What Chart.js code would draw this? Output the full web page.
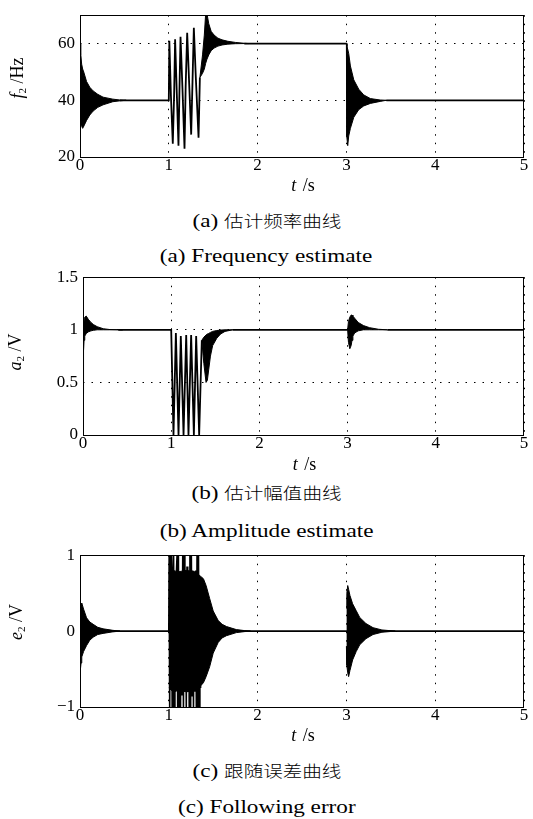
<!DOCTYPE html>
<html>
<head>
<meta charset="utf-8">
<script src="https://cdn.jsdelivr.net/npm/chart.js@4.4.1/dist/chart.umd.min.js"></script>
<style>
  body { margin: 0; background: #fff; width: 533px; height: 819px; position: relative; overflow: hidden; }
  canvas { position: absolute; left: 0; }
  .cap { position: absolute; left: 0; width: 533px; height: 20px; line-height: 20px; text-align: center;
         color: #000; white-space: nowrap; font-family: "Liberation Serif", serif; font-size: 19px; }
  .cap .inner { display: inline-block; transform: scaleX(1.22); }
  .cjk { font-family: "Noto Sans CJK SC", sans-serif; font-size: 16px; font-weight: 300; }
</style>
</head>
<body>
<canvas id="freqChart" width="533" height="200" style="top:0px"></canvas>
<div class="cap" style="top:210px"><span class="inner">(a) <span class="cjk">估计频率曲线</span></span></div>
<div class="cap" style="top:246px"><span class="inner">(a) Frequency estimate</span></div>

<canvas id="ampChart" width="533" height="215" style="top:262px"></canvas>
<div class="cap" style="top:482px"><span class="inner">(b) <span class="cjk">估计幅值曲线</span></span></div>
<div class="cap" style="top:521px"><span class="inner">(b) Amplitude estimate</span></div>

<canvas id="errChart" width="533" height="210" style="top:540px"></canvas>
<div class="cap" style="top:760px"><span class="inner">(c) <span class="cjk">跟随误差曲线</span></span></div>
<div class="cap" style="top:797px"><span class="inner">(c) Following error</span></div>

<script>
// ---- data ----
// time axis, s
const timeTicks = [0, 1, 2, 3, 4, 5];

// (a) estimated frequency f2, Hz
const freqTicks = [20, 40, 60];
// single-line part (null = break where a dense burst is drawn)
const freqTraceT = [0.45, 1.0, 1.006, 1.024, 1.045, 1.06, 1.071, 1.09, 1.109, 1.12, 1.132, 1.154, 1.177, 1.19,
                    1.207, 1.23, 1.252, 1.267, 1.282, 1.305, 1.335, 1.35, 1.6, 1.85, 3.0, 3.2, 3.45, 5];
const freqTraceV = [40, 40, 61, 41.5, 24.7, 42, 61.5, 42.5, 24.0, 43.5, 62.4, 44, 22.9, 45,
                    63.8, 45.5, 27.9, 46.5, 65.6, 47.5, 26.8, 48, null, 60, 60, null, 40, 40];
// dense oscillation envelopes
const freqStartT  = [0, 0.003, 0.011, 0.019, 0.03, 0.037, 0.074, 0.11, 0.148, 0.2, 0.26, 0.37, 0.45, 0.52];
const freqStartHi = [60, 58, 56, 52.7, 51, 50.5, 46.6, 44.6, 43.3, 42.1, 41.1, 40.4, 40.1, 40];
const freqStartLo = [60, 34, 31.5, 30.8, 30.1, 30.5, 32.9, 34.8, 36.2, 37.5, 38.4, 39.5, 39.8, 40];
const freqStepT   = [1.35, 1.38, 1.40, 1.415, 1.43, 1.45, 1.477, 1.51, 1.553, 1.6, 1.665, 1.75, 1.85, 1.9];
const freqStepHi  = [48, 56, 63, 70.5, 70.5, 67, 64.3, 63, 61.9, 61.3, 60.8, 60.4, 60.1, 60];
const freqStepLo  = [48, 49.5, 51, 53, 54.5, 56, 57.5, 58.4, 59.1, 59.5, 59.8, 59.95, 60, 60];
const freqDropT   = [3.0, 3.005, 3.015, 3.026, 3.045, 3.083, 3.139, 3.195, 3.27, 3.38, 3.45];
const freqDropHi  = [60, 59, 58, 56.5, 52.1, 47.2, 43.9, 41.9, 40.6, 40.1, 40];
const freqDropLo  = [60, 27, 24.0, 27.4, 30.1, 34, 36.7, 38.0, 38.9, 39.6, 40];

// (b) estimated amplitude a2, V
const ampTicks = [0, 0.5, 1, 1.5];
const ampTraceT = [0.4, 1.0, 1.026, 1.053, 1.083, 1.109, 1.14, 1.17, 1.196, 1.226, 1.257, 1.283, 1.317, 1.347,
                   1.5, 1.7, 3.0, 3.2, 3.45, 5];
const ampTraceV = [1, 1, 0, 0.97, 0, 0.94, 0, 0.95, 0, 0.95, 0, 0.94, 0, 0.9,
                   null, 1, 1, null, 1, 1];
const ampStartT  = [0, 0.004, 0.008, 0.012, 0.02, 0.037, 0.06, 0.09, 0.118, 0.16, 0.23, 0.3, 0.45];
const ampStartHi = [0.39, 0.75, 0.98, 1.08, 1.12, 1.13, 1.1, 1.07, 1.05, 1.03, 1.01, 1.003, 1.0];
const ampStartLo = [0.39, 0.6, 0.8, 0.9, 0.94, 0.965, 0.98, 0.99, 0.995, 1.0, 1.0, 1.0, 1.0];
const ampStepT   = [1.347, 1.37, 1.395, 1.41, 1.425, 1.445, 1.47, 1.517, 1.56, 1.61, 1.7];
const ampStepHi  = [0.9, 0.93, 0.95, 0.96, 0.965, 0.975, 0.985, 0.993, 0.997, 1.0, 1.0];
const ampStepLo  = [0.9, 0.68, 0.5, 0.52, 0.62, 0.75, 0.85, 0.92, 0.96, 0.985, 1.0];
const ampDropT   = [3.0, 3.01, 3.025, 3.04, 3.05, 3.06, 3.08, 3.12, 3.18, 3.25, 3.35, 3.45];
const ampDropHi  = [1, 1.08, 1.12, 1.14, 1.14, 1.13, 1.11, 1.07, 1.04, 1.02, 1.005, 1];
const ampDropLo  = [1, 0.88, 0.82, 0.85, 0.9, 0.94, 0.97, 0.99, 1, 1, 1, 1];

// (c) following error e2, V
const errTicks = [-1, 0, 1];
const errTickLabels = ['\u22121', '0', '1'];
const errTraceT = [0, 1.0, 1.004, 1.010, 1.017, 1.024, 1.031, 1.038, 1.046, 1.054, 1.061, 1.069, 1.077, 1.085,
                   1.093, 1.100, 1.108, 1.116, 1.124, 1.132, 1.140, 1.148, 1.157, 1.165, 1.173, 1.181, 1.189,
                   1.197, 1.205, 1.213, 1.222, 1.230, 1.238, 1.246, 1.254, 1.262, 1.270, 1.278, 1.286, 1.294,
                   1.302, 1.310, 1.318, 1.326, 1.334, 1.342, 1.350, 1.358, 1.366, 1.372, 5];
const errTraceV = [0, 0, 1, -1, 1, -0.6, 1, -1, 0.7, 1, -1, 0.6, -0.8, 0.75,
                   1, -1, 1, -1, 0.65, -1, 0.7, -0.85, 1, -1, 1, -0.75, 0.8,
                   -1, 0.85, -0.8, 0.75, -1, 1, -1, 1, -0.85, 0.8, -1, 0.75, -0.8,
                   0.8, -1, 1, -1, 1, -1, 0.7, -0.75, 0.7, 0, 0];
const errStartT  = [0, 0.005, 0.012, 0.02, 0.04, 0.074, 0.11, 0.148, 0.2, 0.26, 0.37, 0.45];
const errStartHi = [0.3, 0.34, 0.36, 0.37, 0.29, 0.175, 0.12, 0.09, 0.05, 0.03, 0.01, 0];
const errStartLo = [-0.45, -0.5, -0.42, -0.34, -0.27, -0.19, -0.12, -0.08, -0.045, -0.03, -0.01, 0];
const errStepT   = [1.0, 1.05, 1.1, 1.2, 1.3, 1.36, 1.39, 1.42, 1.46, 1.5, 1.556, 1.6, 1.65, 1.76, 1.85, 1.92];
const errStepHi  = [0.75, 0.8, 0.78, 0.8, 0.78, 0.72, 0.69, 0.6, 0.43, 0.265, 0.14, 0.09, 0.06, 0.02, 0.007, 0];
const errStepLo  = [-0.75, -0.8, -0.78, -0.8, -0.78, -0.72, -0.68, -0.6, -0.47, -0.29, -0.15, -0.09, -0.06, -0.02, -0.007, 0];
const errDropT   = [3.0, 3.005, 3.015, 3.025, 3.04, 3.07, 3.11, 3.15, 3.22, 3.3, 3.4, 3.55];
const errDropHi  = [0.3, 0.5, 0.6, 0.55, 0.47, 0.36, 0.27, 0.18, 0.1, 0.045, 0.015, 0];
const errDropLo  = [-0.2, -0.45, -0.55, -0.6, -0.52, -0.38, -0.27, -0.18, -0.1, -0.045, -0.015, 0];

// ---- helpers ----
const SERIF = '"Liberation Serif", "Times New Roman", serif';

function pts(ts, vs) {
  return ts.map((t, i) => ({ x: t, y: vs[i] }));
}
function trace(ts, vs, w) {
  return { data: pts(ts, vs), borderColor: '#000', borderWidth: w || 1.5, pointRadius: 0, fill: false, spanGaps: false };
}
function burst(ts, hi, lo) {
  return [
    { data: pts(ts, hi), borderColor: '#000', borderWidth: 1, pointRadius: 0, fill: false },
    { data: pts(ts, lo), borderColor: '#000', borderWidth: 1, pointRadius: 0, backgroundColor: '#000', fill: '-1' }
  ];
}

// box round the plot area
const frame = {
  id: 'frame',
  afterDatasetsDraw(chart) {
    const a = chart.chartArea, ctx = chart.ctx;
    ctx.save();
    ctx.strokeStyle = '#000';
    ctx.lineWidth = 1;
    ctx.strokeRect(Math.round(a.left) + 0.5, Math.round(a.top) + 0.5,
                   Math.round(a.right - a.left) - 1, Math.round(a.bottom - a.top));
    ctx.restore();
  }
};

// axis names with italic variable and subscript
const axisText = {
  id: 'axisText',
  afterDraw(chart, args, o) {
    const ctx = chart.ctx, a = chart.chartArea;
    ctx.save();
    ctx.fillStyle = '#000';
    ctx.textBaseline = 'middle';
    // x name
    ctx.font = 'italic 18px ' + SERIF;
    const w1 = ctx.measureText('t').width;
    ctx.font = '18px ' + SERIF;
    const w2 = ctx.measureText(' /s').width;
    let x0 = (a.left + a.right) / 2 - (w1 + w2) / 2;
    ctx.font = 'italic 18px ' + SERIF;
    ctx.fillText('t', x0, o.xNameY);
    ctx.font = '18px ' + SERIF;
    ctx.fillText(' /s', x0 + w1 + 2, o.xNameY);
    // y name, rotated
    ctx.translate(o.yNameX, o.yNameY);
    ctx.rotate(-Math.PI / 2);
    ctx.font = 'italic 18px ' + SERIF;
    const v1 = ctx.measureText(o.yVar).width;
    ctx.font = '11px ' + SERIF;
    const v2 = ctx.measureText('2').width;
    ctx.font = '18px ' + SERIF;
    const v3 = ctx.measureText(o.yUnit).width;
    let y0 = -(v1 + v2 + v3) / 2;
    ctx.font = 'italic 18px ' + SERIF;
    ctx.fillText(o.yVar, y0, 0);
    ctx.font = '11px ' + SERIF;
    ctx.fillText('2', y0 + v1, 5);
    ctx.font = '18px ' + SERIF;
    ctx.fillText(o.yUnit, y0 + v1 + v2, 0);
    ctx.restore();
  }
};

function makeChart(id, g) {
  const canvas = document.getElementById(id);
  return new Chart(canvas, {
    type: 'line',
    data: { datasets: g.datasets },
    options: {
      responsive: false,
      animation: false,
      devicePixelRatio: 1,
      layout: { autoPadding: false, padding: { left: 0, right: 533 - g.right, top: g.top, bottom: 0 } },
      plugins: {
        legend: { display: false },
        tooltip: { enabled: false },
        axisText: { xNameY: g.xNameY, yNameX: g.yNameX, yNameY: g.yNameY, yVar: g.yVar, yUnit: g.yUnit }
      },
      scales: {
        x: {
          type: 'linear', min: 0, max: 5,
          afterBuildTicks: s => { s.ticks = timeTicks.map(v => ({ value: v })); },
          afterFit: s => { s.height = canvas.height - g.bottom; },
          grid: { color: '#000', lineWidth: 1, drawTicks: false },
          border: { display: false, dash: [1.5, 7] },
          ticks: { color: '#000', font: { family: SERIF, size: 17 }, padding: -2, maxRotation: 0, autoSkip: false }
        },
        y: {
          type: 'linear', min: g.yMin, max: g.yMax,
          afterBuildTicks: s => { s.ticks = g.yTicks.map(v => ({ value: v })); },
          afterFit: s => { s.width = g.left; },
          grid: { color: '#000', lineWidth: 1, drawTicks: false },
          border: { display: false, dash: [1.5, 7] },
          ticks: { color: '#000', font: { family: SERIF, size: 17 }, padding: 5,
                   callback: (v, i) => g.yLabels ? g.yLabels[i] : String(v) }
        }
      }
    },
    plugins: [frame, axisText]
  });
}

makeChart('freqChart', {
  left: 80, right: 524, top: 6, bottom: 157,
  yMin: 20, yMax: 70, yTicks: freqTicks,
  xNameY: 186, yNameX: 18, yNameY: 78, yVar: 'f', yUnit: ' /Hz',
  datasets: [
    trace(freqTraceT, freqTraceV, 1.8),
    ...burst(freqStartT, freqStartHi, freqStartLo),
    ...burst(freqStepT, freqStepHi, freqStepLo),
    ...burst(freqDropT, freqDropHi, freqDropLo)
  ]
});

makeChart('ampChart', {
  left: 83, right: 524, top: 14, bottom: 173,
  yMin: 0, yMax: 1.5, yTicks: ampTicks,
  xNameY: 203, yNameX: 16, yNameY: 90, yVar: 'a', yUnit: ' /V',
  datasets: [
    trace(ampTraceT, ampTraceV, 1.8),
    ...burst(ampStartT, ampStartHi, ampStartLo),
    ...burst(ampStepT, ampStepHi, ampStepLo),
    ...burst(ampDropT, ampDropHi, ampDropLo)
  ]
});

makeChart('errChart', {
  left: 80, right: 524, top: 11, bottom: 167,
  yMin: -1, yMax: 1, yTicks: errTicks, yLabels: errTickLabels,
  xNameY: 196, yNameX: 17, yNameY: 82, yVar: 'e', yUnit: ' /V',
  datasets: [
    trace(errTraceT, errTraceV, 1.6),
    ...burst(errStartT, errStartHi, errStartLo),
    ...burst(errStepT, errStepHi, errStepLo),
    ...burst(errDropT, errDropHi, errDropLo)
  ]
});
</script>
</body>
</html>
